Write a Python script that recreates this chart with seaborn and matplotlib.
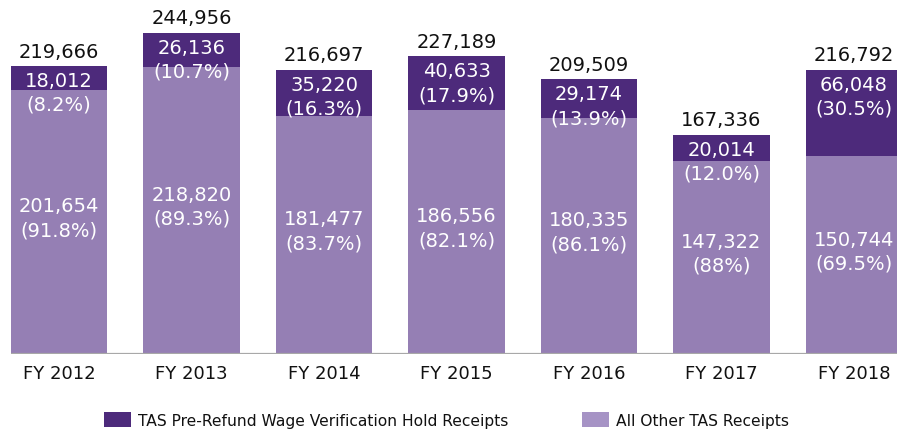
import matplotlib
matplotlib.use("Agg")
import matplotlib.pyplot as plt
from matplotlib.patches import Patch
import seaborn as sns
import pandas as pd

years = ["FY 2012", "FY 2013", "FY 2014", "FY 2015", "FY 2016", "FY 2017", "FY 2018"]
hold_receipts = [18012, 26136, 35220, 40633, 29174, 20014, 66048]
other_receipts = [201654, 218820, 181477, 186556, 180335, 147322, 150744]
totals = [219666, 244956, 216697, 227189, 209509, 167336, 216792]
hold_pct = ["8.2%", "10.7%", "16.3%", "17.9%", "13.9%", "12.0%", "30.5%"]
other_pct = ["91.8%", "89.3%", "83.7%", "82.1%", "86.1%", "88%", "69.5%"]

DARK = "#4d2a7b"
LIGHT = "#957fb4"
LIGHT_LEGEND = "#a693c5"

sns.set_theme(style="white")
plt.rcParams["font.family"] = ["DejaVu Sans"]

df = pd.DataFrame({
    "year": years,
    "hold": hold_receipts,
    "other": other_receipts,
    "total": totals,
})

fig = plt.figure(figsize=(8.97, 4.31), dpi=100)
ax = fig.add_axes([11 / 897, 76 / 431, 886 / 897, 355 / 431])

# Full-height bars in the dark colour, then the "other" share drawn over them
sns.barplot(data=df, x="year", y="total", color=DARK, width=0.727,
            saturation=1, ax=ax, edgecolor="none")
sns.barplot(data=df, x="year", y="other", color=LIGHT, width=0.727,
            saturation=1, ax=ax, edgecolor="none")

ax.set_xlim(-0.3623, 6.3245)
ax.set_ylim(0, 270900)
ax.axhline(0, color="#a8a8a8", lw=1.6, zorder=5)
for s in ax.spines.values():
    s.set_visible(False)
ax.set_yticks([])
ax.set_xlabel("")
ax.set_ylabel("")
ax.tick_params(axis="x", length=0, pad=7.5, labelsize=13, colors="#111111")

LABEL_SIZE = 14
for i in range(len(years)):
    # total above the bar
    ax.annotate(f"{totals[i]:,}", (i, totals[i]), xytext=(0, 4),
                textcoords="offset points", ha="center", va="bottom",
                fontsize=LABEL_SIZE, color="#111111")
    # hold receipts near the top of the bar
    ax.annotate(f"{hold_receipts[i]:,}\n({hold_pct[i]})", (i, totals[i]),
                xytext=(0, -3.5), textcoords="offset points", ha="center",
                va="top", fontsize=LABEL_SIZE, color="white", linespacing=1.33)
    # remaining receipts in the middle of the lower segment
    ax.annotate(f"{other_receipts[i]:,}\n({other_pct[i]})",
                (i, other_receipts[i] / 2), xytext=(0, 3),
                textcoords="offset points", ha="center", va="center",
                fontsize=LABEL_SIZE, color="white", linespacing=1.33)

handles = [Patch(facecolor=DARK, edgecolor="none"),
           Patch(facecolor=LIGHT_LEGEND, edgecolor="none")]
labels = ["TAS Pre-Refund Wage Verification Hold Receipts", "All Other TAS Receipts"]
fig.legend(handles, labels, loc="center", bbox_to_anchor=(0.4975, 10 / 431),
           ncol=2, frameon=False, fontsize=11.2, handlelength=1.75,
           handleheight=1.15, handletextpad=0.45, columnspacing=4.7,
           labelcolor="#111111")

fig.savefig("out.png", dpi=100)
